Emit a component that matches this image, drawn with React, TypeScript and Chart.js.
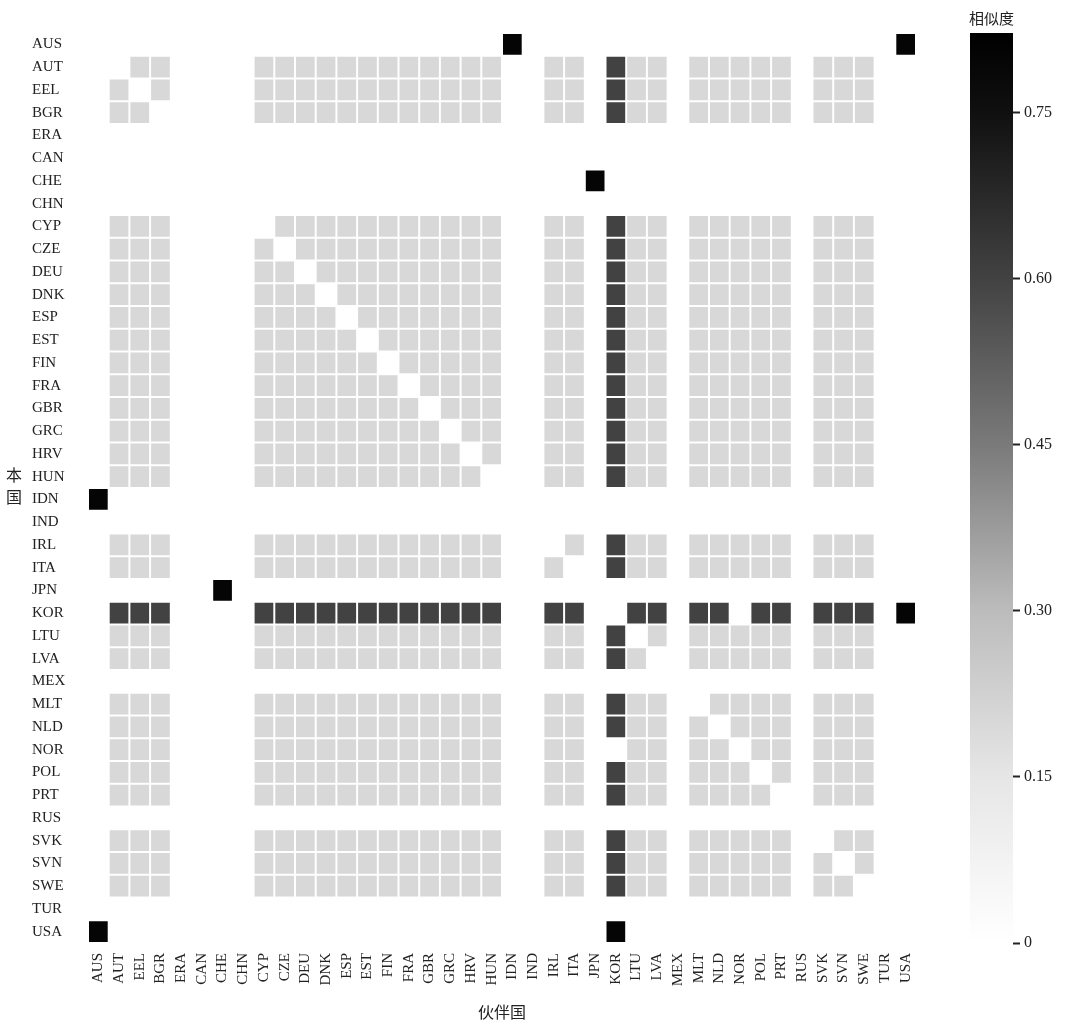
import React, { useEffect, useRef } from "react";
import { Chart, registerables } from "chart.js";
Chart.register(...registerables);

const countries = ["AUS","AUT","EEL","BGR","ERA","CAN","CHE","CHN","CYP","CZE","DEU","DNK","ESP","EST","FIN","FRA","GBR","GRC","HRV","HUN","IDN","IND","IRL","ITA","JPN","KOR","LTU","LVA","MEX","MLT","NLD","NOR","POL","PRT","RUS","SVK","SVN","SWE","TUR","USA"];
const euGroup = ["AUT","EEL","BGR","CYP","CZE","DEU","DNK","ESP","EST","FIN","FRA","GBR","GRC","HRV","HUN","IRL","ITA","LTU","LVA","MLT","NLD","NOR","POL","PRT","SVK","SVN","SWE"];
const korLinked = euGroup.filter((c) => c !== "NOR");
const lightValue = 0.2;
const darkValue = 0.6;
const blackPairs: [string, string, number][] = [
  ["AUS","IDN",0.8],["AUS","USA",0.8],["CHE","JPN",0.8],["IDN","AUS",0.8],
  ["JPN","CHE",0.8],["KOR","USA",0.8],["USA","AUS",0.8],["USA","KOR",0.8],
];
const cbTicks = [0, 0.15, 0.3, 0.45, 0.6, 0.75];
const cbMax = 0.822;
const gradStops: [number, number][] = [[0,255],[0.15,230],[0.3,188],[0.45,122],[0.6,66],[0.75,16],[0.822,0]];

function grayFor(v: number) {
  for (let i = 1; i < gradStops.length; i++) {
    const [v0, g0] = gradStops[i - 1], [v1, g1] = gradStops[i];
    if (v <= v1) { const g = Math.round(g0 + (g1 - g0) * (v - v0) / (v1 - v0)); return `rgb(${g},${g},${g})`; }
  }
  return "rgb(0,0,0)";
}

function buildCells() {
  const cells: { x: string; y: string; v: number }[] = [];
  for (const r of euGroup) for (const c of euGroup) if (r !== c) cells.push({ x: c, y: r, v: lightValue });
  for (const c of korLinked) { cells.push({ x: "KOR", y: c, v: darkValue }); cells.push({ x: c, y: "KOR", v: darkValue }); }
  for (const [r, c, v] of blackPairs) cells.push({ x: c, y: r, v });
  return cells;
}

const font = { family: "'Liberation Serif', 'DejaVu Serif', serif", size: 15 };

export default function App() {
  const mainRef = useRef<HTMLCanvasElement>(null);
  const cbRef = useRef<HTMLCanvasElement>(null);
  useEffect(() => {
    const cells = buildCells();
    const heat = {
      id: "heat",
      afterDatasetsDraw(chart: any) {
        const { ctx, scales } = chart;
        const xs = scales.x, ys = scales.y;
        const w = (xs.right - xs.left) / countries.length;
        const h = (ys.bottom - ys.top) / countries.length;
        ctx.save();
        for (const c of cells) {
          const px = xs.getPixelForValue(countries.indexOf(c.x));
          const py = ys.getPixelForValue(countries.indexOf(c.y));
          ctx.fillStyle = grayFor(c.v);
          ctx.fillRect(px - w / 2 + 1, py - h / 2 + 1, w - 2, h - 2);
        }
        ctx.fillStyle = "#222";
        ctx.font = "16px 'Noto Sans CJK SC'";
        ctx.textAlign = "center";
        ctx.textBaseline = "middle";
        ctx.fillText("本", 14, 475);
        ctx.fillText("国", 14, 497);
        ctx.fillText("伙伴国", (xs.left + xs.right) / 2, 1012);
        ctx.restore();
      },
    };
    const main = new Chart(mainRef.current!, {
      type: "scatter",
      data: { datasets: [{ data: [] }] },
      options: {
        animation: false, responsive: false,
        layout: { padding: { left: 32, right: 156, top: 33, bottom: 21 } },
        plugins: { legend: { display: false }, tooltip: { enabled: false } },
        scales: {
          x: { type: "category", labels: countries, offset: true, grid: { display: false }, border: { display: false },
            ticks: { autoSkip: false, maxRotation: 90, minRotation: 90, color: "#222", font, padding: 2 },
            afterFit: (s: any) => { s.height = 60; } },
          y: { type: "category", labels: countries, offset: true, grid: { display: false }, border: { display: false },
            ticks: { autoSkip: false, color: "#222", font, padding: 4, crossAlign: "far" },
            afterFit: (s: any) => { s.width = 56; } },
        },
      } as any,
      plugins: [heat],
    });
    const bar = {
      id: "bar",
      beforeDatasetsDraw(chart: any) {
        const { ctx, chartArea: a } = chart;
        const g = ctx.createLinearGradient(0, a.bottom, 0, a.top);
        for (const [v, gr] of gradStops) g.addColorStop(Math.min(1, v / cbMax), `rgb(${gr},${gr},${gr})`);
        ctx.save();
        ctx.fillStyle = g;
        ctx.fillRect(a.left, a.top, a.right - a.left, a.bottom - a.top);
        ctx.fillStyle = "#222";
        ctx.font = "15px 'Noto Sans CJK SC'";
        ctx.textAlign = "center";
        ctx.fillText("相似度", (a.left + a.right) / 2, 24);
        ctx.restore();
      },
    };
    const cb = new Chart(cbRef.current!, {
      type: "scatter",
      data: { datasets: [{ data: [] }] },
      options: {
        animation: false, responsive: false,
        layout: { padding: { left: 10, right: 0, top: 33, bottom: 81 } },
        plugins: { legend: { display: false }, tooltip: { enabled: false } },
        scales: {
          x: { display: false, min: 0, max: 1 },
          y: { position: "right", min: 0, max: cbMax,
            afterBuildTicks: (s: any) => { s.ticks = cbTicks.map((v) => ({ value: v })); },
            grid: { drawOnChartArea: false, tickLength: 7, color: "#222", tickWidth: 2 },
            border: { display: false },
            ticks: { color: "#222", font: { ...font, size: 16 }, padding: 4, callback: (v: any) => (v === 0 ? "0" : Number(v).toFixed(2)) },
            afterFit: (s: any) => { s.width = 59; } },
        },
      } as any,
      plugins: [bar],
    });
    return () => { main.destroy(); cb.destroy(); };
  }, []);
  return (
    <div style={{ position: "absolute", left: 0, top: 0, width: 1072, height: 1024, background: "#fff" }}>
      <canvas ref={mainRef} width={1072} height={1024} style={{ position: "absolute", left: 0, top: 0 }} />
      <canvas ref={cbRef} width={112} height={1024} style={{ position: "absolute", left: 960, top: 0 }} />
    </div>
  );
}
